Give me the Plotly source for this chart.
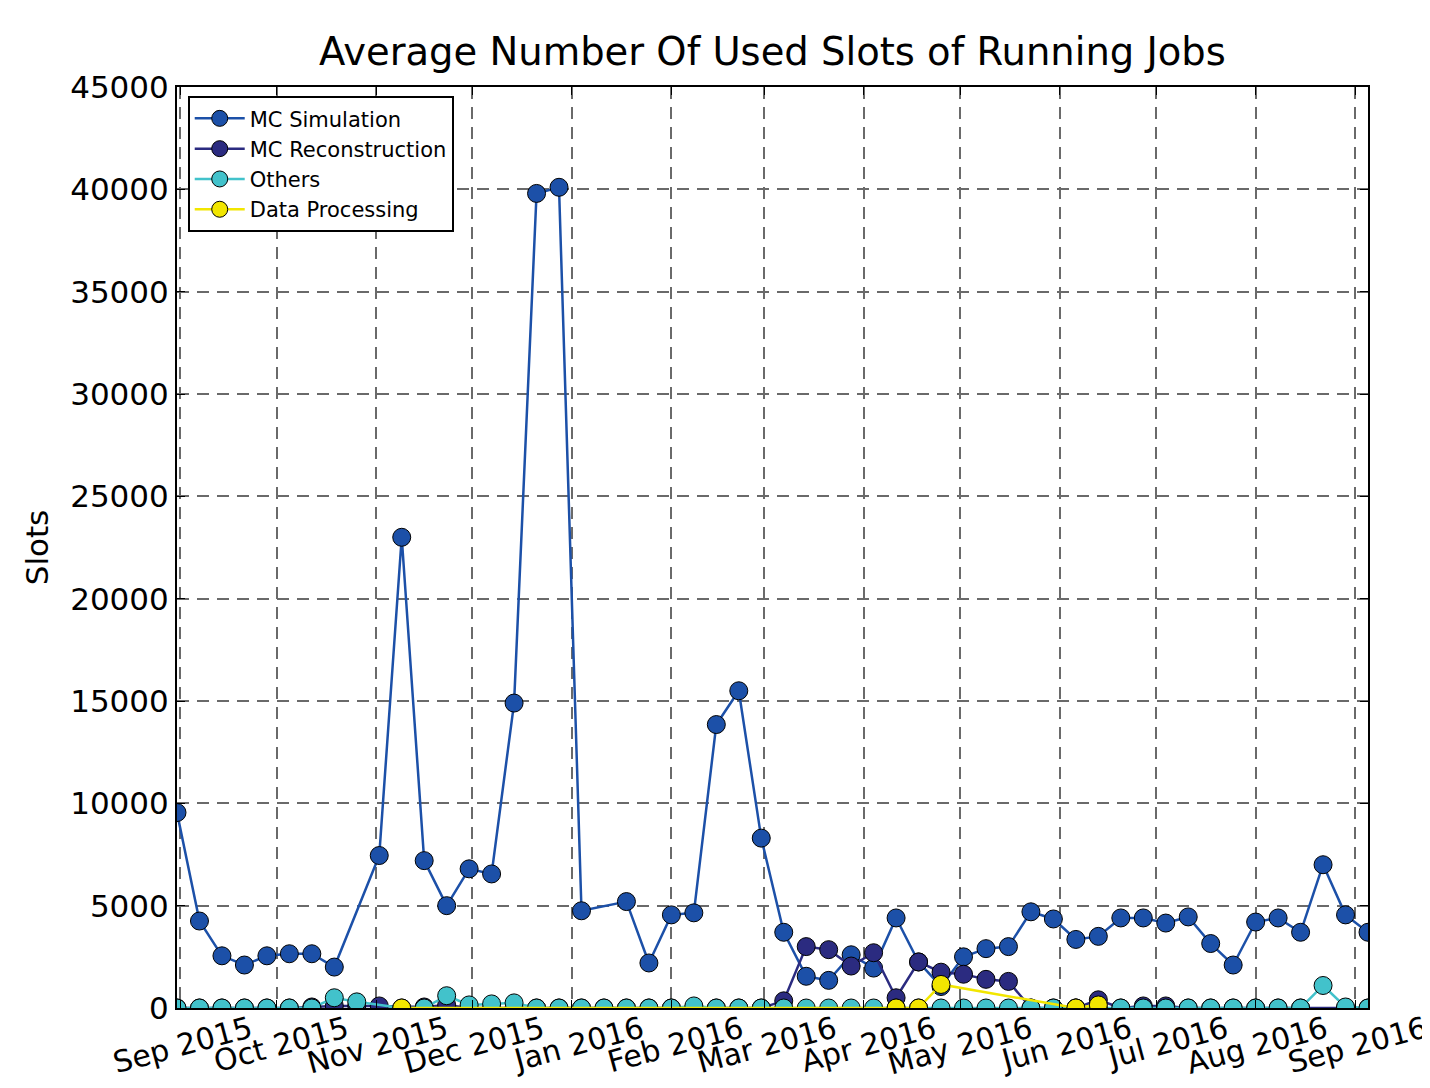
import pandas as pd
import plotly.graph_objects as go

# weekly samples, Aug 31 2015 .. Sep 5 2016
weeks = pd.date_range("2015-08-31", periods=54, freq="7D")

mc_simulation = [
    9550, 4250, 2550, 2100, 2550, 2650, 2650, 2000, None, 7450,
    23000, 7200, 5000, 6800, 6550, 14900, 39800, 40100, 4750, None,
    5200, 2200, 4550, 4650, 13850, 15500, 8300, 3700, 1550, 1350,
    2600, 1950, 4400, 2250, 1050, 2500, 2900, 3000, 4700, 4350,
    3350, 3500, 4400, 4400, 4150, 4450, 3150, 2100, 4200, 4400,
    3700, 7000, 4550, 3700,
]
mc_reconstruction = [
    0, 0, 0, 0, 0, 0, 50, 100, 100, 100,
    None, 50, 150, 0, 0, 0, 0, 0, 0, 0,
    0, 0, 0, 0, 0, 0, 0, 350, 3000, 2850,
    2050, 2700, 500, 2250, 1750, 1650, 1400, 1300, 0, 0,
    0, 400, 0, 100, 100, 0, 0, 0, 0, 0,
    0, None, 0, 0,
]
others = [
    0, 0, 0, 0, 0, 0, 0, 500, 300, None,
    0, 0, 600, 150, 200, 250, 0, 0, 0, 0,
    0, 0, 0, 100, 0, 0, 0, 0, 0, 0,
    0, 0, 0, 0, 0, 0, 0, 0, 0, 0,
    0, 0, 0, 0, 0, 0, 0, 0, 0, 0,
    0, 1100, 50, 0,
]
data_processing = [None] * 54
for i, v in [(10, 0), (32, 0), (33, 0), (34, 1150), (40, 0), (41, 150)]:
    data_processing[i] = v

series = [
    ("MC Simulation", mc_simulation, "#1c50a8"),
    ("MC Reconstruction", mc_reconstruction, "#2b2b80"),
    ("Others", others, "#42c2cb"),
    ("Data Processing", data_processing, "#f2e600"),
]

fig = go.Figure()
for name, vals, color in series:
    fig.add_trace(go.Scatter(
        x=weeks, y=vals, name=name, mode="lines+markers",
        connectgaps=True,
        line=dict(color=color, width=2.5),
        marker=dict(color=color, size=18, line=dict(color="black", width=1)),
    ))

font = "DejaVu Sans, Liberation Sans, sans-serif"
# page body has an 8px margin, so the figure is 8px smaller than the window
fig.update_layout(
    width=1422, height=1080,
    paper_bgcolor="white", plot_bgcolor="white",
    margin=dict(l=169, r=62, t=79, b=80),
    font=dict(family=font, color="black", size=26),
    title=dict(text="Average Number Of Used Slots of Running Jobs",
               x=0.5, xref="paper", y=1 - 44 / 1080, yref="container",
               xanchor="center", yanchor="middle",
               font=dict(size=38.5)),
    legend=dict(x=0.009, y=0.99, xanchor="left", yanchor="top",
                bgcolor="white", bordercolor="black", borderwidth=2,
                font=dict(size=21), tracegroupgap=0, itemwidth=50),
    showlegend=True,
)
grid = dict(showgrid=True, gridcolor="#6a6a6a", griddash="12px,8px", gridwidth=1.5)
fig.update_xaxes(
    range=["2015-08-31", "2016-09-05"],
    tickformat="%b %Y", dtick="M1", tick0="2015-09-01",
    tickangle=-15, tickfont=dict(size=30), ticklabelshift=70,
    ticklabelstandoff=-9,
    ticklabeloverflow="allow", automargin=False,
    showline=True, linecolor="black", linewidth=2, mirror="ticks",
    ticks="inside", ticklen=8, tickcolor="black",
    zeroline=False, **grid,
)
fig.update_yaxes(
    range=[0, 45000], dtick=5000, tickformat="d",
    title=dict(text="Slots", standoff=12),
    tickfont=dict(size=31), automargin=False,
    showline=True, linecolor="black", linewidth=2, mirror="ticks",
    ticks="inside", ticklen=8, tickcolor="black",
    zeroline=False, **grid,
)

fig.write_html("out.html")
